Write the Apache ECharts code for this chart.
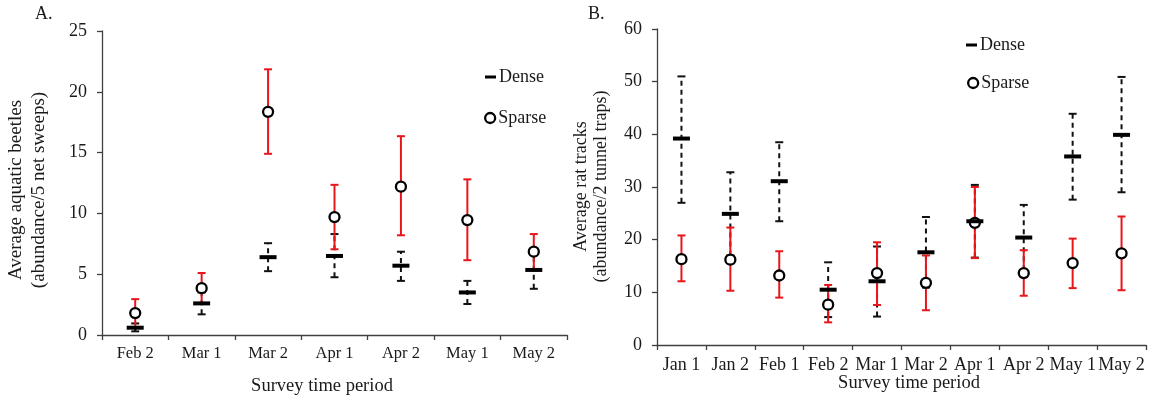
<!DOCTYPE html>
<html>
<head>
<meta charset="utf-8">
<script src="https://cdn.jsdelivr.net/npm/echarts@6/dist/echarts.min.js"></script>
<style>
html,body{margin:0;padding:0;background:#fff;}
#chart{width:1152px;height:399px;}
</style>
</head>
<body>
<div id="chart"></div>
<script>
// ---- Panel A data (aquatic beetles) ----
const aCategories = ['Feb 2', 'Mar 1', 'Mar 2', 'Apr 1', 'Apr 2', 'May 1', 'May 2'];
const aDenseMean  = [0.6, 2.6, 6.4, 6.5, 5.7, 3.5, 5.35];
const aDenseLow   = [0.3, 1.7, 5.25, 4.75, 4.45, 2.55, 3.8];
const aDenseHigh  = [0.95, 3.5, 7.55, 8.3, 6.85, 4.45, 6.9];
const aSparseMean = [1.8, 3.85, 18.35, 9.7, 12.2, 9.45, 6.85];
const aSparseLow  = [0.65, 2.55, 14.9, 7.05, 8.2, 6.15, 5.4];
const aSparseHigh = [2.95, 5.1, 21.85, 12.35, 16.35, 12.8, 8.3];

// ---- Panel B data (rat tracks) ----
const bCategories = ['Jan 1', 'Jan 2', 'Feb 1', 'Feb 2', 'Mar 1', 'Mar 2', 'Apr 1', 'Apr 2', 'May 1', 'May 2'];
const bDenseMean  = [39.2, 24.9, 31.1, 10.5, 12.1, 17.6, 23.5, 20.4, 35.8, 39.9];
const bDenseLow   = [27.0, 17.0, 23.5, 5.3, 5.4, 10.9, 16.6, 14.2, 27.6, 29.0];
const bDenseHigh  = [51.0, 32.8, 38.5, 15.7, 18.7, 24.3, 30.4, 26.6, 43.9, 50.9];
const bSparseMean = [16.3, 16.2, 13.2, 7.65, 13.65, 11.8, 23.2, 13.65, 15.55, 17.4];
const bSparseLow  = [12.1, 10.3, 9.0, 4.3, 7.6, 6.6, 16.5, 9.35, 10.8, 10.4];
const bSparseHigh = [20.8, 22.3, 17.8, 11.4, 19.5, 17.0, 30.0, 18.0, 20.2, 24.4];

// axis ticks
const aYMax = 25, aYInterval = 5;
const bYMax = 60, bYInterval = 10;

const FONT = '"Liberation Serif", "Times New Roman", serif';
const TXT = '#1a1a1a';
const AXIS = '#404040';
const RED = '#e8161b';

function errData(low, high) {
  return low.map((l, i) => [i, l, high[i]]);
}
function errRender(color, dashed) {
  return function (params, api) {
    const x = api.value(0);
    const lo = api.coord([x, api.value(1)]);
    const hi = api.coord([x, api.value(2)]);
    const cap = 4;
    const lw = 2;
    return {
      type: 'group',
      children: [
        {type: 'line', shape: {x1: lo[0], y1: lo[1], x2: hi[0], y2: hi[1]},
         style: {stroke: color, lineWidth: lw, lineDash: dashed ? [5, 4] : null}},
        {type: 'line', shape: {x1: lo[0] - cap, y1: lo[1], x2: lo[0] + cap, y2: lo[1]},
         style: {stroke: color, lineWidth: lw}},
        {type: 'line', shape: {x1: hi[0] - cap, y1: hi[1], x2: hi[0] + cap, y2: hi[1]},
         style: {stroke: color, lineWidth: lw}}
      ]
    };
  };
}

function xAxisCfg(gridIndex, cats, fontSize, margin) {
  return {
    type: 'category', gridIndex: gridIndex, data: cats, boundaryGap: true,
    axisLine: {lineStyle: {color: AXIS, width: 1.3}},
    axisTick: {show: true, length: 5, inside: false, lineStyle: {color: AXIS, width: 1.3}},
    axisLabel: {interval: 0, color: TXT, fontFamily: FONT, fontSize: fontSize, margin: margin},
    splitLine: {show: false}
  };
}
function yAxisCfg(gridIndex, max, interval, fontSize) {
  return {
    type: 'value', gridIndex: gridIndex, min: 0, max: max, interval: interval,
    axisLine: {show: true, lineStyle: {color: AXIS, width: 1.3}},
    axisTick: {show: true, length: 5, inside: false, lineStyle: {color: AXIS, width: 1.3}},
    axisLabel: {color: TXT, fontFamily: FONT, fontSize: fontSize, margin: 15},
    splitLine: {show: false}
  };
}

function panelSeries(idx, dMean, dLow, dHigh, sMean, sLow, sHigh) {
  return [
    {type: 'custom', name: 'Dense error', xAxisIndex: idx, yAxisIndex: idx, z: 2,
     renderItem: errRender('#111', true), data: errData(dLow, dHigh), silent: true},
    {type: 'custom', name: 'Sparse error', xAxisIndex: idx, yAxisIndex: idx, z: 3,
     renderItem: errRender(RED, false), data: errData(sLow, sHigh), silent: true},
    {type: 'scatter', name: 'Sparse', xAxisIndex: idx, yAxisIndex: idx, z: 4,
     symbol: 'circle', symbolSize: 10,
     itemStyle: {color: '#fff', borderColor: '#000', borderWidth: 2.3, opacity: 1},
     data: sMean.map((v, i) => [i, v])},
    {type: 'scatter', name: 'Dense', xAxisIndex: idx, yAxisIndex: idx, z: 5,
     symbol: 'rect', symbolSize: [17, 4],
     itemStyle: {color: '#000', opacity: 1},
     data: dMean.map((v, i) => [i, v])}
  ];
}

function legendCfg(name, left, top, icon, w, h, style) {
  return {
    data: [{name: name, icon: icon, itemStyle: style}],
    left: left, top: top, orient: 'vertical', padding: 0,
    itemWidth: w, itemHeight: h, selectedMode: false,
    textStyle: {color: TXT, fontFamily: FONT, fontSize: 18, padding: [0, 0, 0, -2]}
  };
}

const chart = echarts.init(document.getElementById('chart'), null, {renderer: 'canvas'});
const option = {
  backgroundColor: '#fff',
  animation: false,
  grid: [
    {left: 102, top: 31, right: 585, bottom: 64},
    {left: 657, top: 29, right: 6, bottom: 54}
  ],
  xAxis: [xAxisCfg(0, aCategories, 16.5, 10), xAxisCfg(1, bCategories, 18, 11)],
  yAxis: [yAxisCfg(0, aYMax, aYInterval, 18), yAxisCfg(1, bYMax, bYInterval, 18)],
  legend: [
    legendCfg('Dense', 485, 68, 'rect', 11, 3, {color: '#000'}),
    legendCfg('Sparse', 484, 109, 'circle', 10, 10, {color: '#fff', borderColor: '#000', borderWidth: 2.3}),
    legendCfg('Dense', 966, 36, 'rect', 11, 3, {color: '#000'}),
    legendCfg('Sparse', 967, 74, 'circle', 10, 10, {color: '#fff', borderColor: '#000', borderWidth: 2.3})
  ],
  graphic: [
    {type: 'text', left: 35, top: 5, style: {text: 'A.', font: '18px ' + FONT, fill: TXT}},
    {type: 'text', left: 588, top: 5, style: {text: 'B.', font: '18px ' + FONT, fill: TXT}},
    {type: 'text', x: 27.5, y: 190, rotation: Math.PI / 2,
     style: {text: 'Average aquatic beetles\n(abundance/5 net sweeps)', font: '19px ' + FONT,
             fill: TXT, align: 'center', verticalAlign: 'middle', lineHeight: 23}},
    {type: 'text', x: 591, y: 186.5, rotation: Math.PI / 2,
     style: {text: 'Average rat tracks\n(abundance/2 tunnel traps)', font: '18px ' + FONT,
             fill: TXT, align: 'center', verticalAlign: 'middle', lineHeight: 20}},
    {type: 'text', x: 322, y: 386,
     style: {text: 'Survey time period', font: '18.5px ' + FONT, fill: TXT, align: 'center', verticalAlign: 'middle'}},
    {type: 'text', x: 909, y: 383,
     style: {text: 'Survey time period', font: '18.5px ' + FONT, fill: TXT, align: 'center', verticalAlign: 'middle'}}
  ],
  series: [].concat(
    panelSeries(0, aDenseMean, aDenseLow, aDenseHigh, aSparseMean, aSparseLow, aSparseHigh),
    panelSeries(1, bDenseMean, bDenseLow, bDenseHigh, bSparseMean, bSparseLow, bSparseHigh)
  )
};
chart.setOption(option);
</script>
</body>
</html>
